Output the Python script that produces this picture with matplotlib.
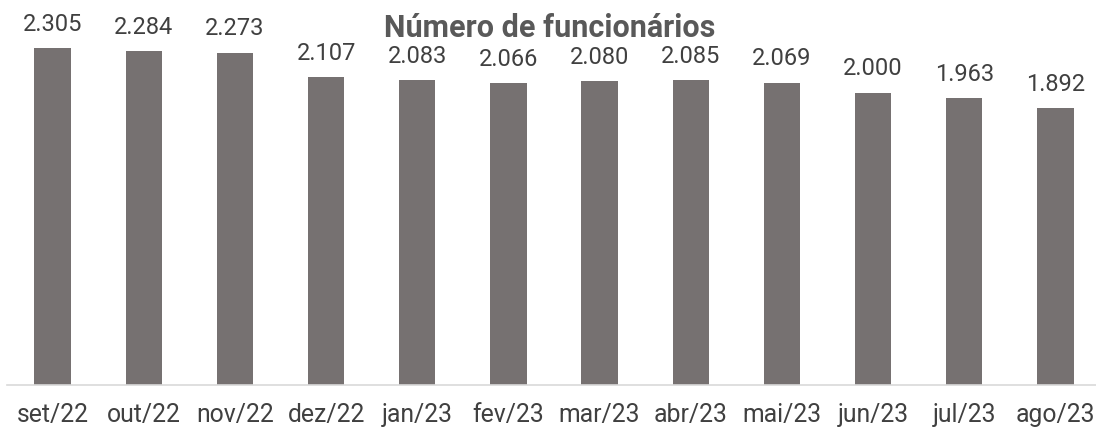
import matplotlib.pyplot as plt

meses = ['set/22', 'out/22', 'nov/22', 'dez/22', 'jan/23', 'fev/23',
         'mar/23', 'abr/23', 'mai/23', 'jun/23', 'jul/23', 'ago/23']
funcionarios = [2305, 2284, 2273, 2107, 2083, 2066, 2080, 2085, 2069, 2000, 1963, 1892]

plt.rcParams['font.family'] = ['Roboto', 'DejaVu Sans']

fig = plt.figure(figsize=(10.96, 4.28), dpi=100)
ax = fig.add_axes([7 / 1096, 43 / 428, 1094 / 1096, 375 / 428])

x = range(len(meses))
bars = ax.bar(x, funcionarios, width=0.4, color='#767171', zorder=2)

for xi, v in zip(x, funcionarios):
    lab = f'{v:,}'.replace(',', '.')
    ax.annotate(lab, (xi, v), xytext=(0, 12.5), textcoords='offset points',
                ha='center', va='baseline', fontsize=17, color='#404040')

ax.set_xlim(-0.5, len(meses) - 0.5)
ax.set_ylim(0, 2565)
ax.set_xticks(list(x))
ax.set_xticklabels(meses, fontsize=17.8, color='#404040')
ax.tick_params(axis='x', length=0, pad=13)
ax.set_yticks([])
for s in ['top', 'right', 'left']:
    ax.spines[s].set_visible(False)
ax.spines['bottom'].set_color('#d9d9d9')
ax.spines['bottom'].set_linewidth(1.2)

fig.text(550 / 1096, 1 - 37 / 428, 'Número de funcionários', ha='center',
         va='baseline', fontsize=22, fontweight='bold', color='#595959')

fig.savefig('out.png', dpi=100)
